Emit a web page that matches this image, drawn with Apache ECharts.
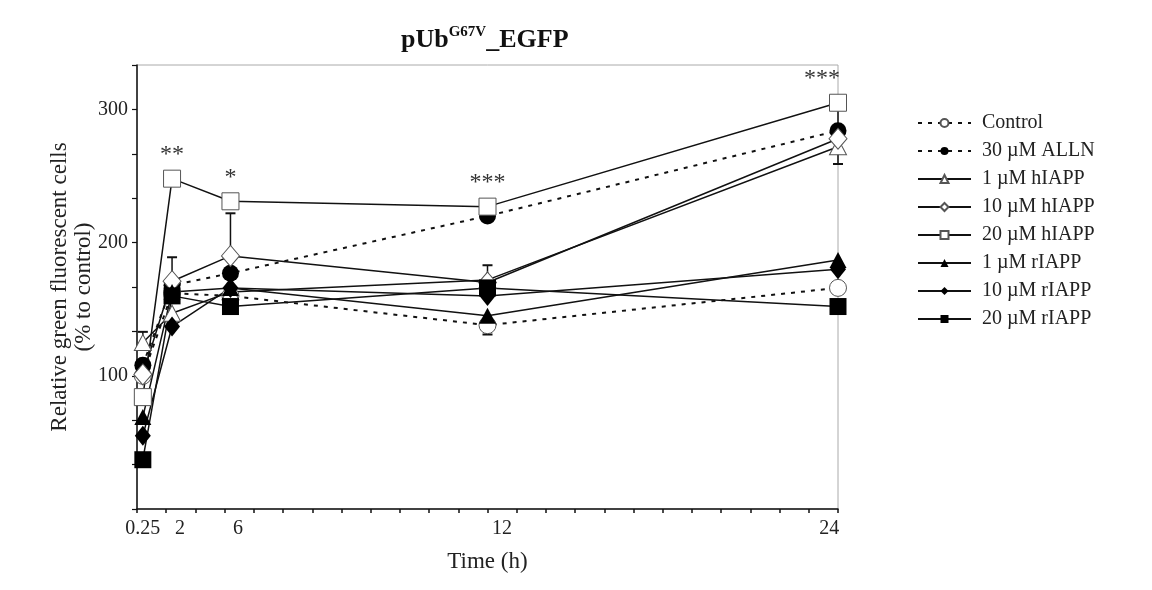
<!DOCTYPE html>
<html>
<head>
<meta charset="utf-8">
<title>pUb G67V EGFP</title>
<script src="https://cdn.jsdelivr.net/npm/echarts@6/dist/echarts.min.js"></script>
<style>
    html, body { margin: 0; padding: 0; background: #fff; }
    #chart { width: 1152px; height: 590px; }
</style>
</head>
<body>
<div id="chart"></div>
<script>
// 时间点 (h) 以及它们在图中横轴上实际所处的位置 (原图前几个点没有按比例画)
var timeLabels = ['0.25', '2', '6', '12', '24'];
var timePos = [0.2, 1.2, 3.2, 12, 24];
var labelPos = [0.2, 1.47, 3.46, 12.5, 23.7];

var yTickLabels = [100, 200, 300];

var seriesNames = ['Control', '30 µM ALLN', '1 µM hIAPP', '10 µM hIAPP', '20 µM hIAPP', '1 µM rIAPP', '10 µM rIAPP', '20 µM rIAPP'];

// 各组数值 (% to control)
var control = [100, 162, 160, 138, 166];
var alln = [108, 168, 177, 220, 284];
var hIAPP1 = [125, 147, 163, 172, 272];
var hIAPP10 = [101, 171, 190, 170, 278];
var hIAPP20 = [84, 248, 231, 227, 305];
var rIAPP1 = [69, 163, 166, 145, 187];
var rIAPP10 = [55, 137, 166, 160, 180];
var rIAPP20 = [37, 160, 152, 166, 152];

// 显著性标记 (20 µM hIAPP)
var stars = ['', '**', '*', '***', '***'];

// 误差线: 时间点序号, 起点, 终点
var errIndex = [0, 1, 2, 3, 3, 4, 4];
var errFrom = [125, 171, 190, 172, 138, 272, 284];
var errTo = [133, 189, 222, 183, 131, 259, 300];

var serif = '"Liberation Serif", "DejaVu Serif", serif';

/**
 * 组装一条折线
 */
function makeLine(name, values, symbol, size, filled, dashed) {
    var data = [];
    for (var i = 0; i < values.length; i++) {
        data.push([timePos[i], values[i]]);
    }
    return {
        name: name,
        type: 'line',
        data: data,
        symbol: symbol,
        symbolSize: size,
        showAllSymbol: true,
        z: 3,
        lineStyle: {
            color: '#111',
            width: dashed ? 2 : 1.5,
            type: dashed ? [4, 6] : 'solid'
        },
        itemStyle: {
            color: filled ? '#000' : '#fff',
            borderColor: filled ? '#000' : '#555',
            borderWidth: filled ? 0 : 1,
            opacity: 1
        },
        emphasis: { disabled: true },
        animation: false
    };
}

function renderErrorBar(params, api) {
    var x = api.value(0);
    var p1 = api.coord([x, api.value(1)]);
    var p2 = api.coord([x, api.value(2)]);
    return {
        type: 'group',
        children: [{
            type: 'line',
            shape: { x1: p1[0], y1: p1[1], x2: p2[0], y2: p2[1] },
            style: { stroke: '#111', lineWidth: 1.5 }
        }, {
            type: 'line',
            shape: { x1: p2[0] - 5, y1: p2[1], x2: p2[0] + 5, y2: p2[1] },
            style: { stroke: '#111', lineWidth: 2 }
        }]
    };
}

function drawChart(id) {
    var myChart = echarts.init(document.querySelector(id));

    var errData = [];
    for (var i = 0; i < errIndex.length; i++) {
        errData.push([timePos[errIndex[i]], errFrom[i], errTo[i]]);
    }

    var series = [
        makeLine(seriesNames[0], control, 'circle', 17, false, true),
        makeLine(seriesNames[1], alln, 'circle', 17, true, true),
        makeLine(seriesNames[2], hIAPP1, 'triangle', [17, 16], false, false),
        makeLine(seriesNames[3], hIAPP10, 'diamond', [18, 21], false, false),
        makeLine(seriesNames[4], hIAPP20, 'rect', 17, false, false),
        makeLine(seriesNames[5], rIAPP1, 'triangle', [17, 16], true, false),
        makeLine(seriesNames[6], rIAPP10, 'diamond', [16, 20], true, false),
        makeLine(seriesNames[7], rIAPP20, 'rect', 17, true, false)
    ];
    // 20 µM hIAPP 上方的星号
    series[4].label = {
        show: true,
        position: 'top',
        distance: 3,
        color: '#333',
        fontFamily: serif,
        fontSize: 24,
        formatter: function(p) {
            return stars[p.dataIndex];
        }
    };
    // 最右侧的星号在原图里往左偏
    var last = series[4].data.length - 1;
    series[4].data[last] = {
        value: series[4].data[last],
        label: { offset: [-16, 0] }
    };
    series.push({
        name: 'error',
        type: 'custom',
        renderItem: renderErrorBar,
        data: errData,
        encode: { x: 0, y: [1, 2] },
        z: 2,
        silent: true,
        animation: false
    });

    var option = {
        backgroundColor: '#fff',
        title: {
            text: '{b|pUb}{s|G67V}{b|_EGFP}',
            left: 396,
            top: 20,
            textStyle: {
                rich: {
                    b: { fontFamily: serif, fontSize: 26, fontWeight: 'bold', color: '#111', lineHeight: 30 },
                    s: { fontFamily: serif, fontSize: 15, color: '#111', lineHeight: 30, verticalAlign: 'top' }
                }
            }
        },
        legend: {
            orient: 'vertical',
            left: 917,
            top: 113,
            padding: 0,
            itemWidth: 53,
            itemHeight: 10,
            itemGap: 8,
            data: seriesNames,
            textStyle: {
                fontFamily: serif,
                fontSize: 20,
                lineHeight: 20,
                color: '#222',
                padding: [0, 0, 0, 6]
            }
        },
        grid: {
            left: 137,
            right: 314,
            top: 65,
            bottom: 81,
            show: true,
            borderColor: '#aaa',
            borderWidth: 1
        },
        xAxis: {
            type: 'value',
            min: 0,
            max: 24,
            interval: 1,
            name: 'Time (h)',
            nameLocation: 'middle',
            nameGap: 41,
            nameTextStyle: { fontFamily: serif, fontSize: 23, color: '#222' },
            axisLine: { show: true, lineStyle: { color: '#111', width: 1.5 } },
            axisTick: { show: true, length: 4, lineStyle: { color: '#111', width: 1.5 } },
            axisLabel: {
                customValues: labelPos,
                margin: 10,
                fontFamily: serif,
                fontSize: 20,
                color: '#222',
                formatter: function(value) {
                    for (var i = 0; i < labelPos.length; i++) {
                        if (Math.abs(labelPos[i] - value) < 0.01) {
                            return timeLabels[i];
                        }
                    }
                    return '';
                }
            },
            splitLine: { show: false }
        },
        yAxis: {
            type: 'value',
            min: 0,
            max: 1000 / 3,
            interval: 100 / 3,
            name: 'Relative green fluorescent cells\n(% to control)',
            nameLocation: 'middle',
            nameGap: 41,
            nameMoveOverlap: false,
            nameTextStyle: { fontFamily: serif, fontSize: 23, lineHeight: 24, color: '#222' },
            axisLine: { show: true, lineStyle: { color: '#111', width: 1.5 } },
            axisTick: { show: true, length: 5, lineStyle: { color: '#111', width: 1.2 } },
            axisLabel: {
                margin: 9,
                fontFamily: serif,
                fontSize: 20,
                color: '#222',
                formatter: function(value) {
                    var v = Math.round(value);
                    return yTickLabels.indexOf(v) >= 0 ? String(v) : '';
                }
            },
            splitLine: { show: false }
        },
        series: series
    };
    myChart.setOption(option);
    window.addEventListener('resize', function() {
        myChart.resize();
    });
}

drawChart('#chart');
</script>
</body>
</html>
